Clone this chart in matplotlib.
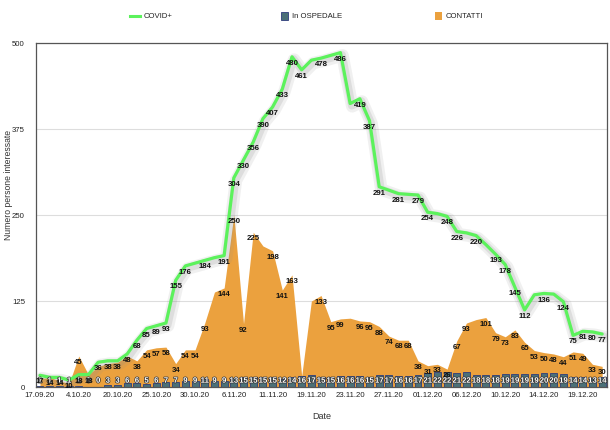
import matplotlib
matplotlib.use('Agg')
import matplotlib.pyplot as plt
import matplotlib.patheffects as pe
from matplotlib.lines import Line2D
from matplotlib.patches import Rectangle

plt.rcParams['font.family'] = ['Liberation Sans', 'DejaVu Sans']

# ---------------- data ----------------
tick_labels = ['17.09.20', '4.10.20', '20.10.20', '25.10.20', '30.10.20', '6.11.20',
               '11.11.20', '19.11.20', '23.11.20', '27.11.20', '01.12.20', '06.12.20',
               '10.12.20', '14.12.20', '19.12.20']
tick_every = 4

covid = [17, 14, 14, 10, 18, 18, 36, 38, 38, 48,
         68, 85, 89, 93, 155, 176, 180, 184, 188, 191,
         304, 330, 356, 390, 407, 433, 480, 461, 475, 478,
         482, 486, 412, 419, 387, 291, 286, 281, 280, 279,
         254, 252, 248, 226, 224, 220, 207, 193, 178, 145,
         112, 134, 136, 135, 124, 75, 81, 80, 77]

ospedale = [1, 1, 1, 1, 1, 0, 0, 3, 3, 6,
            6, 5, 6, 7, 7, 9, 9, 11, 9, 9,
            13, 15, 15, 15, 15, 12, 14, 16, 17, 15,
            15, 16, 16, 16, 15, 17, 17, 16, 16, 17,
            21, 22, 22, 21, 22, 18, 18, 18, 19, 19,
            19, 19, 20, 20, 19, 14, 14, 13, 14]

contatti = [12, 14, 9, 5, 45, 18, 30, 34, 36, 45,
            38, 54, 57, 58, 34, 54, 54, 93, 138, 144,
            250, 92, 225, 205, 198, 141, 163, 16, 125, 133,
            95, 99, 100, 96, 95, 88, 74, 68, 68, 38,
            31, 33, 26, 67, 93, 98, 101, 79, 73, 83,
            65, 53, 50, 48, 44, 51, 49, 33, 30]

covid_hidden = {16, 18, 28, 30, 32, 36, 38, 41, 44, 46, 51, 53}
contatti_hidden = {0, 1, 2, 3, 5, 6, 7, 8, 9, 18, 23, 27, 28, 32, 45}

# ---------------- figure ----------------
W, H = 610, 431
fig = plt.figure(figsize=(W / 100, H / 100), dpi=100)
fig.patch.set_facecolor('white')
ax = fig.add_axes([36 / W, 1 - 388 / H, (607 - 36) / W, (388 - 44) / H])

x = list(range(len(covid)))

ax.fill_between(x, contatti, 0, color='#EBA13E', lw=0, zorder=1)
ax.bar(x, ospedale, width=0.72, color='#4B7077', edgecolor='#2E3C7C', lw=0.6, zorder=2)
ax.plot(x, covid, color='#5CF25C', lw=2.3, zorder=3, solid_joinstyle='round',
        solid_capstyle='round',
        path_effects=[pe.SimpleLineShadow(offset=(1.5, -2.0), shadow_color='#8a8a8a',
                                          alpha=0.12, linewidth=9),
                      pe.SimpleLineShadow(offset=(1.2, -1.6), shadow_color='#8a8a8a',
                                          alpha=0.18, linewidth=5.5),
                      pe.Normal()])

lab_kw = dict(textcoords='offset points', ha='center', va='top', fontsize=5.6,
              fontweight='bold', color='#111111', zorder=6)
for i, v in enumerate(covid):
    if i not in covid_hidden:
        ax.annotate(str(v), (i, v), xytext=(0, -1.5), **lab_kw)
for i, v in enumerate(contatti):
    if i not in contatti_hidden:
        ax.annotate(str(v), (i, v), xytext=(0, -1.5), **lab_kw)
for i, v in enumerate(ospedale):
    ax.annotate(str(v), (i, 0), xytext=(0, 4.2), textcoords='offset points',
                ha='center', va='center', fontsize=5.6, fontweight='bold',
                color='white', zorder=5,
                path_effects=[pe.withStroke(linewidth=1.0, foreground='#333333')])

ax.set_xlim(-0.41, 58.5)
ax.set_ylim(0, 500)
ax.set_yticks([0, 125, 250, 375, 500])
ax.set_xticks(list(range(0, len(tick_labels) * tick_every, tick_every)))
ax.set_xticklabels(tick_labels)
ax.tick_params(axis='both', length=0, labelsize=5.6, colors='#222222')
ax.tick_params(axis='x', pad=3)
ax.tick_params(axis='y', pad=8)
ax.grid(axis='y', color='#dddddd', lw=0.8)
ax.set_axisbelow(True)
for s in ax.spines.values():
    s.set_color('#555555')
    s.set_linewidth(0.9)

ax.set_xlabel('Date', fontsize=6.5, color='#333333', labelpad=9)
fig.text(9 / W, 1 - 185 / H, 'Numero persone interessate', rotation=90,
         ha='center', va='center', fontsize=6.2, color='#333333')

# legend
ly = 1 - 17 / H
fig.add_artist(Line2D([130 / W, 140 / W], [ly, ly], color='#5CF25C', lw=2.2))
fig.text(144 / W, ly, 'COVID+', fontsize=5.6, va='center', ha='left', color='#222222')
fig.add_artist(Rectangle((281 / W, ly - 4 / H), 7 / W, 8 / H, facecolor='#4B7077',
                         edgecolor='#2E3C7C', lw=0.6))
fig.text(292 / W, ly, 'In OSPEDALE', fontsize=5.6, va='center', ha='left', color='#222222')
fig.add_artist(Rectangle((435 / W, ly - 4 / H), 7 / W, 8 / H, facecolor='#EBA13E',
                         edgecolor='none'))
fig.text(446 / W, ly, 'CONTATTI', fontsize=5.6, va='center', ha='left', color='#222222')

fig.savefig('out.png', dpi=100)
